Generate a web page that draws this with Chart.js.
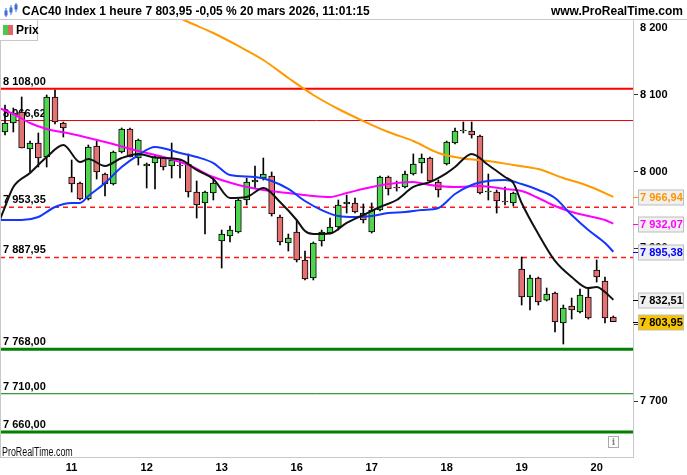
<!DOCTYPE html>
<html>
<head>
<meta charset="utf-8">
<script src="https://cdn.jsdelivr.net/npm/chart.js@4.4.1/dist/chart.umd.min.js"></script>
<style>
  body { margin: 0; background: #fff; }
  #wrap { position: relative; width: 687px; height: 475px; overflow: hidden; font-family: "Liberation Sans", Arial, sans-serif; }
  #chart { position: absolute; left: 0; top: 0; }
  .hdr { position: absolute; top: 4px; font-weight: bold; font-size: 12px; color: #000; white-space: nowrap; line-height: 14px; }
  #prix { position: absolute; left: 0; top: 20px; width: 37px; height: 20px; border: 1px solid #c8c8c8; border-left: none; border-top: none; background: #fff; }
  #prix .g { position: absolute; left: 3px; top: 5px; width: 5px; height: 10px; background: #4cc94c; }
  #prix .r { position: absolute; left: 8px; top: 5px; width: 5px; height: 10px; background: #e06666; }
  #prix span { position: absolute; left: 16px; top: 3px; font-weight: bold; font-size: 12px; }
  #brand { position: absolute; left: 2px; top: 445px; font-size: 12px; color: #111; transform: scaleX(0.74); transform-origin: left top; white-space: nowrap; }
  #info { position: absolute; left: 608px; top: 436px; width: 9px; height: 10px; border: 1px solid #aaa; font: bold 9px "DejaVu Serif", serif; color: #888; text-align: center; line-height: 10px; }
</style>
</head>
<body>
<div id="wrap">
  <canvas id="chart" width="687" height="475"></canvas>
  <svg style="position:absolute;left:3px;top:2px" width="16" height="16">
    <line x1="3" y1="6" x2="3" y2="15" stroke="#3b6fd6"/><rect x="1.5" y="8.5" width="3" height="5" fill="#3b6fd6"/>
    <line x1="8" y1="3" x2="8" y2="13" stroke="#3b6fd6"/><rect x="6.5" y="5.5" width="3" height="5" fill="#3b6fd6"/>
    <line x1="13" y1="1" x2="13" y2="10" stroke="#3b6fd6"/><rect x="11.5" y="2.5" width="3" height="5" fill="#3b6fd6"/>
  </svg>
  <div class="hdr" style="left:22px">CAC40 Index 1 heure 7 803,95 -0,05 % 20 mars 2026, 11:01:15</div>
  <div class="hdr" style="right:4px">www.ProRealTime.com</div>
  <div id="prix"><div class="g"></div><div class="r"></div><span>Prix</span></div>
  <div id="brand">ProRealTime.com</div>
  <div id="info">i</div>
</div>
<script>
// --- DATA (CAC40, 1h candles, 10 -> 20 mars) ---
const opens = [8051.7, 8063.4, 8077.8, 8029.5, 8037.3, 8019.0, 8097.4, 8063.4, 7992.9, 7985.1,
  7964.2, 8033.4, 7996.8, 7983.8, 8025.6, 8055.6, 8017.7, 8007.3, 8011.2, 8017.7,
  8007.3, 8008.6, 8009.9, 7973.3, 7959.0, 7972.0, 7909.4, 7915.9, 7921.1, 7962.9,
  7986.4, 7991.6, 7994.2, 7940.7, 7906.8, 7921.1, 7884.6, 7861.1, 7909.4, 7919.8,
  7927.7, 7957.7, 7959.0, 7945.9, 7921.1, 7949.8, 7992.9, 7979.9, 7979.9, 7996.8,
  8011.2, 8017.7, 7986.4, 8009.9, 8037.3, 8053.0, 8053.0, 8046.5, 7973.3, 7973.3,
  7961.6, 7959.0, 7872.8, 7836.3, 7861.1, 7832.3, 7841.5, 7802.3, 7824.5, 7816.7,
  7836.3, 7871.5, 7857.2, 7810.2];
const highs = [8086.9, 8083.0, 8097.4, 8039.9, 8050.4, 8100.0, 8106.5, 8064.7, 8015.1, 7986.4,
  8034.7, 8039.9, 7998.1, 8026.9, 8056.9, 8056.9, 8042.5, 8011.2, 8021.6, 8019.0,
  8037.3, 8015.1, 8023.0, 7987.7, 7974.6, 7991.6, 7923.7, 7929.0, 7964.2, 7991.6,
  8007.3, 8017.7, 7999.5, 7943.3, 7918.5, 7936.8, 7896.3, 7908.1, 7923.7, 7939.4,
  7962.9, 7969.4, 7965.5, 7957.7, 7959.0, 7994.2, 7994.2, 7987.7, 8000.8, 8023.0,
  8023.0, 8019.0, 7989.0, 8039.9, 8056.9, 8064.7, 8064.7, 8047.8, 7996.8, 7976.0,
  7979.9, 7973.3, 7888.5, 7865.0, 7862.4, 7848.0, 7842.8, 7825.8, 7835.0, 7846.7,
  7848.0, 7884.6, 7862.4, 7811.5];
const lows = [8047.8, 8051.7, 8030.8, 7999.5, 8006.0, 8006.0, 8062.1, 8045.1, 7973.3, 7962.9,
  7962.9, 7990.3, 7968.1, 7982.5, 8024.3, 8019.0, 8008.6, 7978.6, 7977.3, 8002.1,
  7991.6, 7991.6, 7966.8, 7939.4, 7918.5, 7962.9, 7874.1, 7908.1, 7919.8, 7956.4,
  7978.6, 7989.0, 7942.0, 7904.2, 7896.3, 7882.0, 7858.5, 7858.5, 7902.8, 7918.5,
  7923.7, 7945.9, 7945.9, 7932.9, 7919.8, 7948.5, 7969.4, 7974.6, 7978.6, 7995.5,
  7998.1, 7986.4, 7966.8, 8008.6, 8036.0, 8050.4, 8043.8, 7970.7, 7962.9, 7945.9,
  7956.4, 7955.1, 7825.8, 7819.3, 7825.8, 7831.0, 7790.6, 7774.9, 7807.5, 7815.4,
  7807.5, 7855.8, 7802.3, 7803.95];
const closes = [8063.4, 8076.5, 8030.8, 8037.3, 8017.7, 8097.4, 8064.7, 8056.9, 7983.8, 7964.2,
  8032.1, 7999.5, 7983.8, 8025.6, 8055.6, 8019.0, 8041.2, 8009.9, 8019.0, 8006.0,
  8015.1, 8007.3, 7973.3, 7956.4, 7973.3, 7985.1, 7918.5, 7923.7, 7962.9, 7986.4,
  7989.0, 7996.8, 7944.6, 7908.1, 7913.3, 7884.6, 7859.8, 7906.8, 7921.1, 7927.7,
  7956.4, 7960.3, 7947.2, 7936.8, 7949.8, 7992.9, 7977.3, 7978.6, 7996.8, 8009.9,
  8017.7, 7987.7, 7976.0, 8038.6, 8053.0, 8054.3, 8047.8, 7972.0, 7974.6, 7961.6,
  7960.3, 7972.0, 7836.3, 7861.1, 7829.7, 7840.2, 7803.6, 7821.9, 7819.3, 7838.9,
  7808.9, 7862.4, 7808.9, 7803.95];

// day labels and the candle index where each day opens
const dayLabels = ['11', '12', '13', '16', '17', '18', '19', '20'];
const dayStart = [8, 17, 26, 35, 44, 53, 62, 71];

// moving averages (candle index / value)
const maBlackIdx = [-1, 0, 1, 3, 5, 7, 9, 10, 12, 14, 16, 18, 21, 23, 25, 27, 29, 31, 33, 35, 36, 37, 39, 41, 43, 45, 47, 49, 51, 53, 54, 56, 58, 60, 61, 62, 64, 66, 68, 70, 71, 72, 73];
const maBlackVal = [7926.3, 7953.8, 7979.9, 7998.1, 8019.0, 8034.7, 8012.5, 8016.4, 8007.3, 8017.7, 8023.0, 8018.4, 8015.8, 8002.1, 7990.3, 7965.5, 7966.8, 7978.6, 7960.3, 7936.8, 7922.4, 7918.5, 7919.2, 7932.9, 7943.3, 7953.8, 7962.9, 7979.9, 7986.4, 7998.1, 8006.0, 8023.0, 8008.6, 7992.9, 7985.1, 7959.0, 7918.5, 7883.3, 7862.4, 7848.0, 7849.3, 7842.8, 7832.51];
const maBlueIdx = [-1, 2, 4, 6, 8, 9, 10, 12, 14, 16, 18, 21, 23, 25, 27, 30, 32, 34, 36, 38, 40, 42, 44, 46, 48, 50, 52, 54, 56, 58, 60, 62, 64, 66, 68, 70, 72, 73];
const maBlueVal = [7936.8, 7936.8, 7940.7, 7953.8, 7959.0, 7959.0, 7968.1, 7985.1, 8006.0, 8021.6, 8032.1, 8024.3, 8019.0, 8011.2, 7995.5, 7992.9, 7987.7, 7977.3, 7961.6, 7949.8, 7942.0, 7940.7, 7942.0, 7945.9, 7947.2, 7949.8, 7952.5, 7970.7, 7982.5, 7987.7, 7989.0, 7983.8, 7976.0, 7965.5, 7943.3, 7923.7, 7906.8, 7895.38];
const maPinkIdx = [-1, 1, 3, 5, 8, 12, 16, 19, 22, 25, 28, 31, 34, 37, 39, 41, 44, 47, 49, 51, 54, 57, 60, 62, 64, 66, 68, 70, 72, 73];
const maPinkVal = [8084.3, 8075.2, 8063.4, 8055.6, 8049.1, 8038.6, 8026.9, 8019.0, 8008.6, 7992.9, 7982.5, 7976.0, 7972.0, 7968.1, 7966.8, 7972.0, 7979.9, 7985.1, 7986.4, 7982.5, 7979.9, 7981.2, 7977.3, 7974.6, 7965.5, 7955.1, 7947.2, 7942.0, 7936.8, 7932.07];
const maOrangeIdx = [20, 22, 25, 28, 31, 34, 37, 40, 43, 46, 49, 52, 55, 58, 61, 64, 67, 70, 73];
const maOrangeVal = [8205.7, 8195.3, 8180.9, 8164.0, 8145.7, 8122.2, 8100.0, 8081.7, 8066.0, 8051.7, 8039.9, 8024.3, 8017.1, 8013.8, 8008.6, 8003.4, 7991.6, 7981.2, 7966.94];

// horizontal levels
const levelVals = [8108.00, 8066.62, 7953.35, 7887.95, 7768.00, 7710.00, 7660.00];
const levelColors = ['#ff0000', '#e00000', '#ff1a1a', '#ff1a1a', '#008000', '#008000', '#008000'];
const levelWidths = [2, 1, 1.5, 1.5, 3, 1, 3];
const levelDashed = [false, false, true, true, false, false, false];

const yTicks = [7700, 7800, 7900, 8000, 8100, 8200];
const X_MIN = -0.6, X_MAX = 75.36, Y_MIN = 7627.4, Y_MAX = 8197.9;

const FONT = '"Liberation Sans", Arial, sans-serif';

function fmt(v, d) {
    const s = v.toFixed(d);
    const parts = s.split('.');
    const intPart = parts[0].replace(/\B(?=(\d{3})+(?!\d))/g, ' ');
    return parts[1] ? intPart + ',' + parts[1] : intPart;
}

function pts(idx, vals) {
    return idx.map((x, i) => ({ x: x, y: vals[i] }));
}

const wickData = highs.map((h, i) => ({ x: i, y: [lows[i], h] }));
const bodyData = opens.map((o, i) => ({ x: i, y: [o, closes[i]] }));
const bodyColors = opens.map((o, i) => closes[i] >= o ? '#4fd44f' : '#e37373');

const levelSets = levelVals.map((v, i) => ({
    type: 'line',
    data: [{ x: X_MIN, y: v }, { x: X_MAX, y: v }],
    borderColor: levelColors[i],
    borderWidth: levelWidths[i],
    borderDash: levelDashed[i] ? [5, 4] : [],
    pointRadius: 0,
    order: 10
}));

function maSet(idx, vals, color) {
    return {
        type: 'line',
        data: pts(idx, vals),
        borderColor: color,
        borderWidth: 2,
        pointRadius: 0,
        cubicInterpolationMode: 'monotone',
        order: 1
    };
}

// --- custom drawing: level labels, borders, last-value boxes ---
const overlay = {
    id: 'overlay',
    beforeDatasetsDraw(chart) {
        const ctx = chart.ctx, y = chart.scales.y, a = chart.chartArea;
        ctx.save();
        ctx.font = 'bold 11px ' + FONT;
        ctx.fillStyle = '#000';
        ctx.textBaseline = 'alphabetic';
        levelVals.forEach(v => {
            ctx.fillText(fmt(v, 2), a.left + 3, y.getPixelForValue(v) - 4);
        });
        ctx.restore();
    },
    afterDraw(chart) {
        const ctx = chart.ctx, y = chart.scales.y, a = chart.chartArea;
        ctx.save();
        ctx.strokeStyle = '#c8c8c8';
        ctx.lineWidth = 1;
        ctx.beginPath();
        ctx.moveTo(0, a.top - 0.5); ctx.lineTo(chart.width, a.top - 0.5);
        ctx.moveTo(0.5, a.top); ctx.lineTo(0.5, a.bottom);
        ctx.stroke();

        // top tick label sits just under the header
        ctx.font = 'bold 11px ' + FONT;
        ctx.fillStyle = '#000';
        ctx.textBaseline = 'middle';
        ctx.fillText(fmt(yTicks[yTicks.length - 1], 0), a.right + 7, a.top + 8);

        const boxes = [
            { v: maOrangeVal[maOrangeVal.length - 1], c: '#ff9400', bg: '#f0f0f0' },
            { v: maPinkVal[maPinkVal.length - 1], c: '#ff00ff', bg: '#f0f0f0' },
            { v: maBlueVal[maBlueVal.length - 1], c: '#0000ff', bg: '#f0f0f0' },
            { v: maBlackVal[maBlackVal.length - 1], c: '#000000', bg: '#f0f0f0' },
            { v: closes[closes.length - 1], c: '#000000', bg: '#f7c600' }
        ];
        boxes.forEach(b => {
            const py = Math.round(y.getPixelForValue(b.v)) + 0.5;
            ctx.strokeStyle = b.c;
            ctx.beginPath();
            ctx.moveTo(a.right, py); ctx.lineTo(a.right + 5, py);
            ctx.stroke();
            ctx.fillStyle = b.bg;
            ctx.fillRect(a.right + 5.5, py - 7.5, 45, 15);
            ctx.strokeStyle = '#bdbdbd';
            ctx.strokeRect(a.right + 5.5, py - 7.5, 45, 15);
            ctx.fillStyle = b.c;
            ctx.fillText(fmt(b.v, 2), a.right + 7, py + 0.5);
        });
        ctx.restore();
    }
};

new Chart(document.getElementById('chart'), {
    type: 'bar',
    data: {
        datasets: [
            maSet(maBlackIdx, maBlackVal, '#111111'),
            maSet(maBlueIdx, maBlueVal, '#1436ff'),
            maSet(maPinkIdx, maPinkVal, '#ff00ff'),
            maSet(maOrangeIdx, maOrangeVal, '#ff9900'),
            {
                type: 'bar', data: bodyData, backgroundColor: bodyColors,
                borderColor: '#000', borderWidth: 1, borderSkipped: false,
                barThickness: 6, grouped: false, order: 2
            },
            {
                type: 'bar', data: wickData, backgroundColor: '#000',
                borderWidth: 0, barThickness: 1, grouped: false, order: 3
            },
            ...levelSets
        ]
    },
    options: {
        responsive: false,
        animation: false,
        devicePixelRatio: 1,
        layout: { padding: { top: 20, left: 0, right: 0, bottom: 0 } },
        plugins: { legend: { display: false }, tooltip: { enabled: false } },
        scales: {
            x: {
                type: 'linear', min: X_MIN, max: X_MAX, offset: false,
                grid: { drawOnChartArea: false, drawTicks: false },
                border: { display: true, color: '#c8c8c8' },
                ticks: {
                    padding: 4, color: '#000', font: { family: FONT, size: 11, weight: 'bold' },
                    callback: v => dayLabels[dayStart.indexOf(v)]
                },
                afterBuildTicks: s => { s.ticks = dayStart.map(v => ({ value: v })); },
                afterFit: s => { s.height = 18; }
            },
            y: {
                type: 'linear', position: 'right', min: Y_MIN, max: Y_MAX,
                grid: { drawOnChartArea: false, drawTicks: true, tickLength: 5, tickColor: '#333' },
                border: { display: true, color: '#c8c8c8' },
                ticks: {
                    padding: 2, color: '#000', font: { family: FONT, size: 11, weight: 'bold' },
                    callback: v => fmt(v, 0)
                },
                afterBuildTicks: s => { s.ticks = yTicks.filter(v => v <= Y_MAX).map(v => ({ value: v })); },
                afterFit: s => { s.width = 54; }
            }
        }
    },
    plugins: [overlay]
});
</script>
</body>
</html>
